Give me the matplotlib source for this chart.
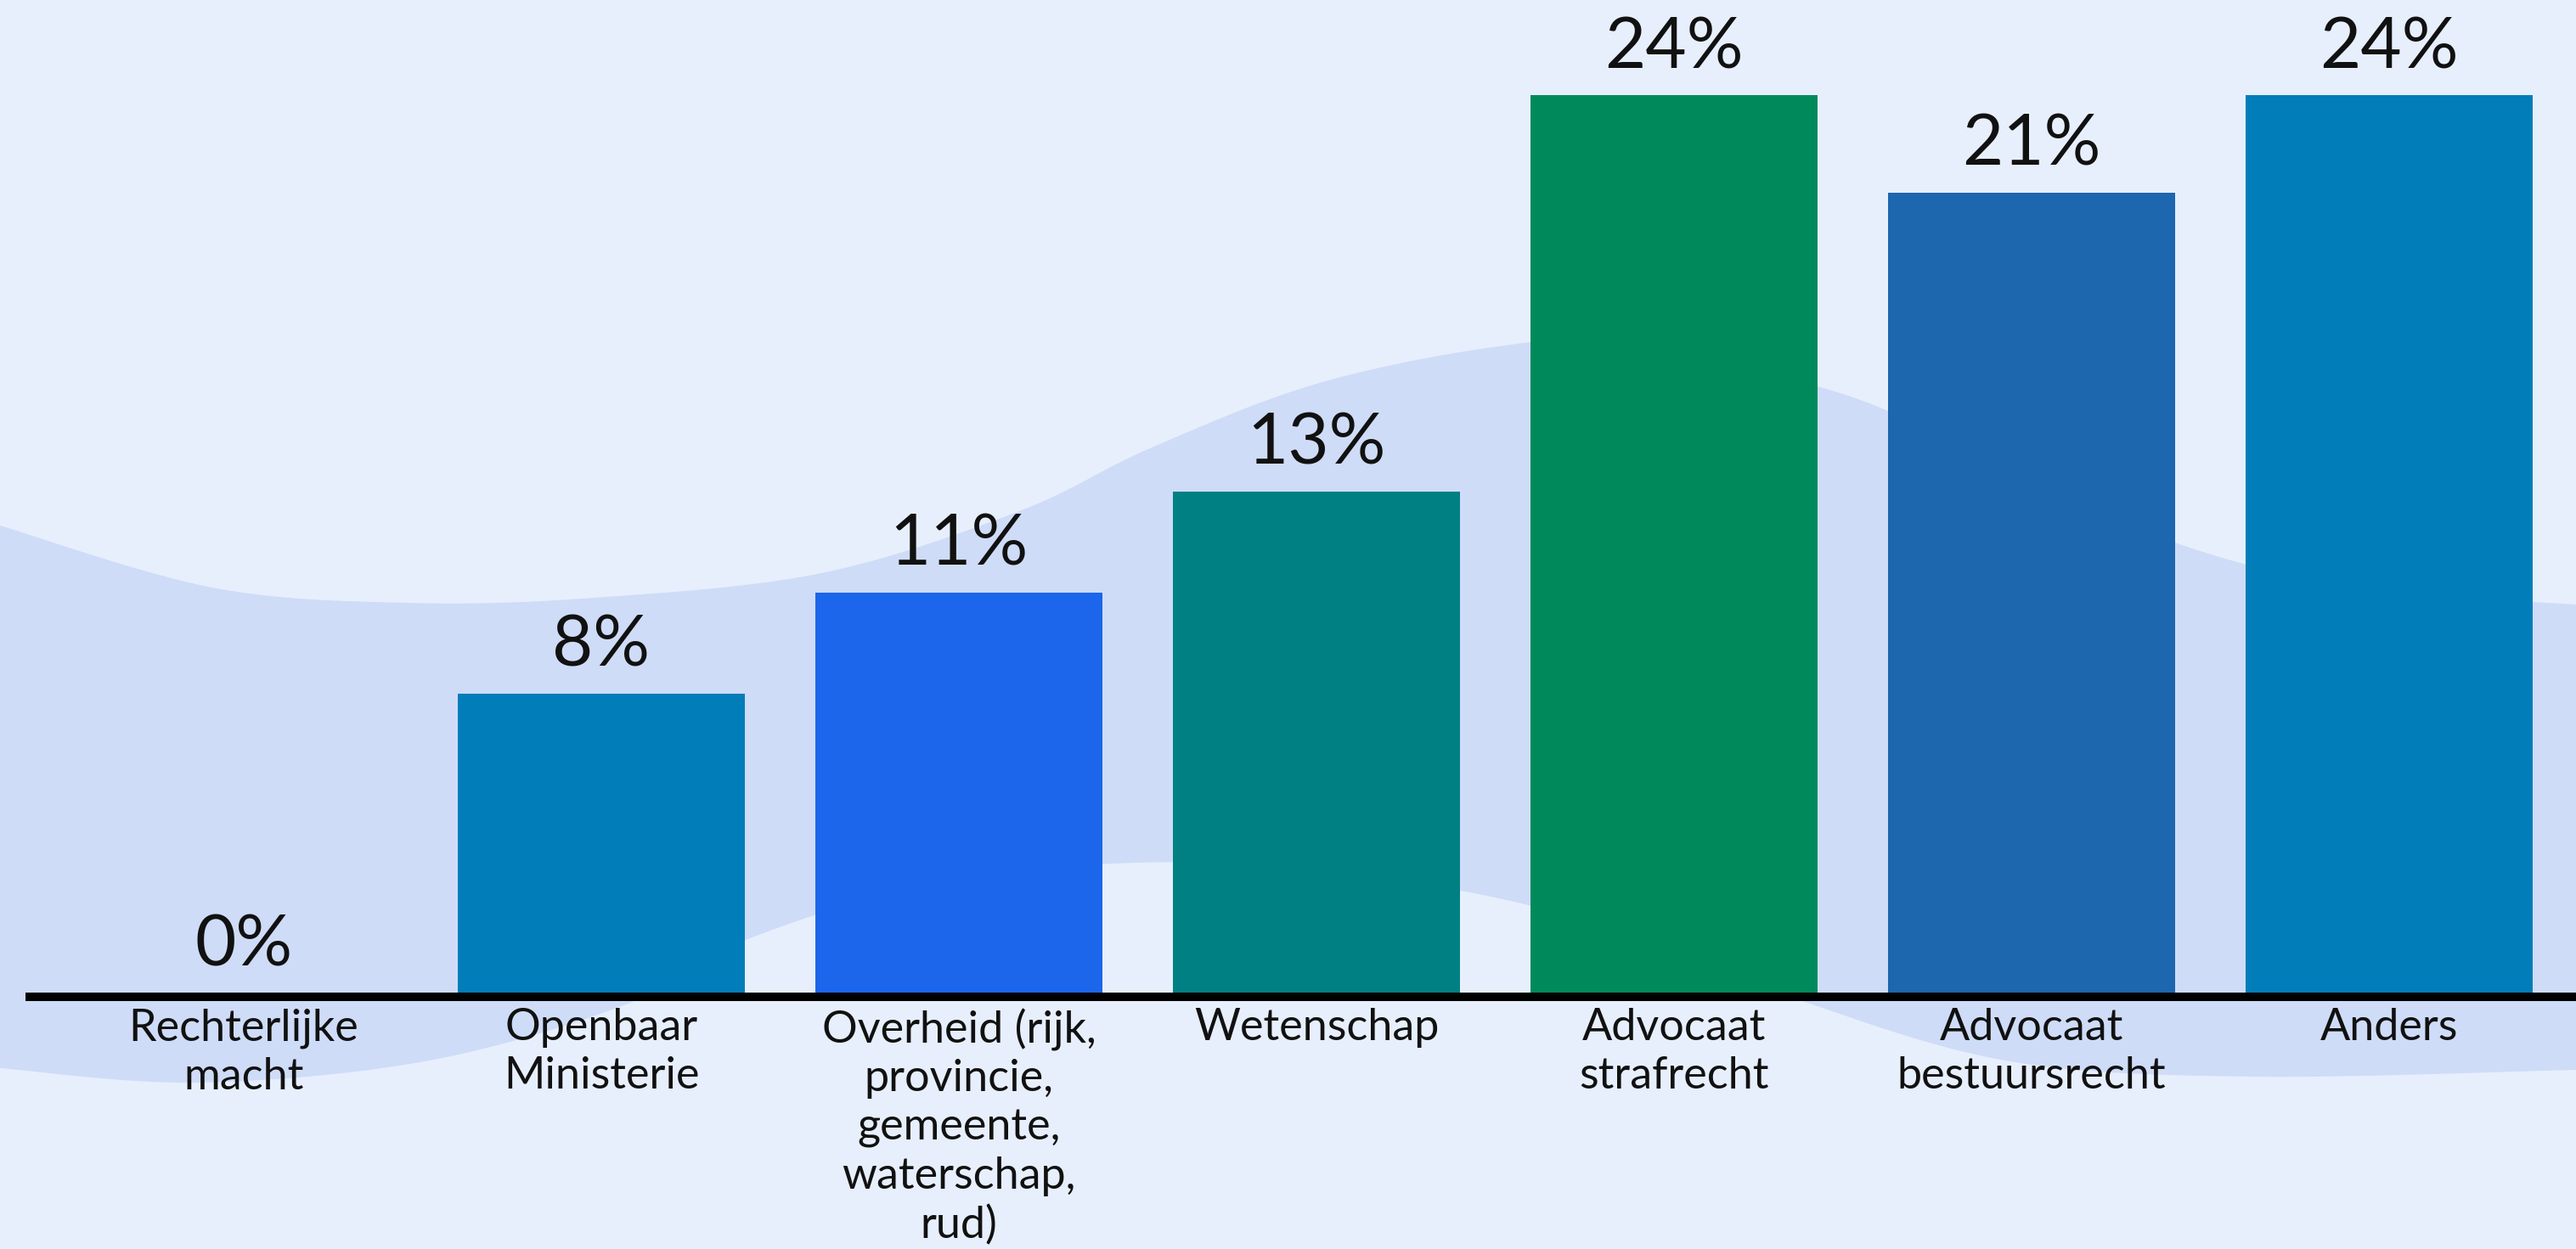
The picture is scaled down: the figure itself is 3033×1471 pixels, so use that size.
import numpy as np
import matplotlib
matplotlib.use("Agg")
import matplotlib.pyplot as plt

# data
categories = ["Rechterlijke\nmacht", "Openbaar\nMinisterie",
              "Overheid (rijk,\nprovincie,\ngemeente,\nwaterschap,\nrud)",
              "Wetenschap", "Advocaat\nstrafrecht", "Advocaat\nbestuursrecht", "Anders"]
values = [0, 8.0, 10.7, 13.4, 24.0, 21.4, 24.0]
colors = ["#017db9", "#017db9", "#1b66eb", "#018083", "#008a5b", "#1c67ae", "#017db9"]

# background wave outline (pixels, decoration only)
wave_top = [(0, 619), (250, 692), (480, 710), (700, 704), (967, 675), (1200, 602),
            (1354, 528), (1550, 452), (1764, 408), (1900, 406), (2176, 466),
            (2400, 572), (2600, 652), (2800, 695), (3033, 712)]
wave_bot = [(0, 1258), (230, 1275), (500, 1250), (737, 1183), (878, 1107),
            (1100, 1040), (1340, 1016), (1550, 1025), (1760, 1057), (1950, 1110),
            (2125, 1180), (2367, 1250), (2652, 1268), (3033, 1260)]

plt.rcParams['font.family'] = ['Lato', 'DejaVu Sans']

W, H = 3033, 1471
fig = plt.figure(figsize=(W / 100, H / 100), dpi=100, facecolor="#e7effd")


def smooth(pts, n=40):
    # catmull-rom through the outline points
    p = np.array(pts, dtype=float)
    p = np.vstack([p[0], p, p[-1]])
    out = []
    t = np.linspace(0, 1, n, endpoint=False)[:, None]
    for i in range(1, len(p) - 2):
        p0, p1, p2, p3 = p[i - 1], p[i], p[i + 1], p[i + 2]
        c = 0.5 * ((2 * p1) + (-p0 + p2) * t + (2 * p0 - 5 * p1 + 4 * p2 - p3) * t ** 2
                   + (-p0 + 3 * p1 - 3 * p2 + p3) * t ** 3)
        out.append(c)
    out.append(p[-2][None, :])
    return np.vstack(out)


bg = fig.add_axes([0, 0, 1, 1], zorder=0)
bg.set_xlim(0, W)
bg.set_ylim(H, 0)
bg.axis("off")
top = smooth(wave_top)
bot = smooth(wave_bot)
xs = np.linspace(0, W, 800)
yt = np.interp(xs, top[:, 0], top[:, 1])
yb = np.interp(xs, bot[:, 0], bot[:, 1])
bg.fill_between(xs, yt, yb, color="#cfdcf7", lw=0)

# main chart: value 0 sits at pixel row 1169, 44 px per percent
zero_px = 1169
px_per = 44.04
ax_bot = 1186
ax = fig.add_axes([30 / W, (H - ax_bot) / H, 1 - 30 / W, ax_bot / H], zorder=1)
ax.patch.set_alpha(0)

x = np.arange(len(categories))
ax.bar(x, values, width=0.803, color=colors, zorder=2)
for xi, v in zip(x, values):
    ax.annotate(f"{round(v)}%", (xi, v), xytext=(0, 23), textcoords="offset points",
                ha="center", va="baseline", fontsize=60, color="#111111")

ax.axhline(-5 / px_per, color="black", lw=7.2, zorder=3)
ax.set_xlim((30 - 287) / 421, (W - 287) / 421)
ax.set_ylim(-(ax_bot - zero_px) / px_per, zero_px / px_per)
ax.set_yticks([])
ax.set_xticks(x)
ax.set_xticklabels(categories, fontsize=37.5, color="#111111", linespacing=1.26)
ax.tick_params(axis="x", length=0, pad=1)
for s in ax.spines.values():
    s.set_visible(False)

fig.savefig("out.png", dpi=100, facecolor=fig.get_facecolor())
